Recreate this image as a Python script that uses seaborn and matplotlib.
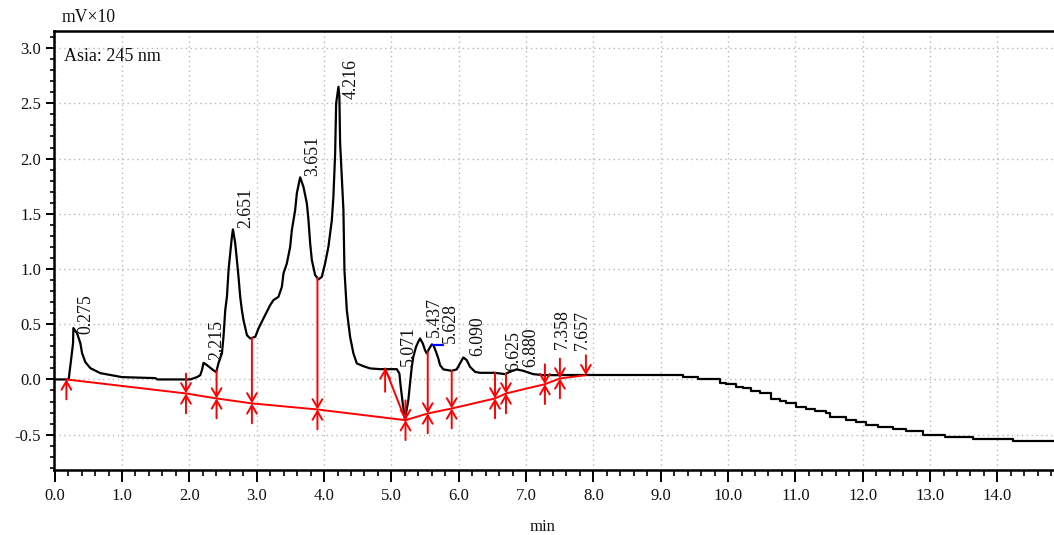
import numpy as np
import pandas as pd
import matplotlib
matplotlib.use("Agg")
import matplotlib.pyplot as plt
import seaborn as sns
from matplotlib.ticker import MultipleLocator, FormatStrFormatter

# ---------------- data ----------------
trace_t = [0.000, 0.208, 0.243, 0.273, 0.278, 0.332, 0.381, 0.407, 0.455, 0.530,
           0.678, 1.000, 1.494, 1.524, 2.013, 2.113, 2.162, 2.187, 2.211, 2.261,
           2.355, 2.399, 2.433, 2.484, 2.507, 2.533, 2.558, 2.582, 2.607, 2.632,
           2.647, 2.681, 2.706, 2.730, 2.755, 2.780, 2.804, 2.855, 2.904, 2.979,
           3.027, 3.101, 3.200, 3.249, 3.323, 3.374, 3.398, 3.448, 3.497, 3.522,
           3.571, 3.596, 3.645, 3.694, 3.745, 3.769, 3.794, 3.819, 3.868, 3.917,
           3.967, 4.016, 4.065, 4.116, 4.139, 4.165, 4.180, 4.214, 4.228, 4.239,
           4.288, 4.303, 4.338, 4.387, 4.436, 4.487, 4.585, 4.684, 4.832, 5.080,
           5.119, 5.139, 5.169, 5.203, 5.226, 5.252, 5.277, 5.303, 5.326, 5.366,
           5.400, 5.426, 5.466, 5.500, 5.525, 5.564, 5.600, 5.623, 5.663, 5.697,
           5.723, 5.772, 5.896, 5.970, 6.019, 6.068, 6.119, 6.168, 6.242, 6.316,
           6.539, 6.687, 6.761, 6.861, 6.959, 7.107, 7.255, 7.503]
trace_v = [0.000, 0.000, 0.175, 0.329, 0.465, 0.419, 0.329, 0.238, 0.157, 0.102,
           0.057, 0.021, 0.012, 0.000, 0.000, 0.021, 0.039, 0.084, 0.150, 0.130,
           0.084, 0.066, 0.148, 0.238, 0.386, 0.628, 0.748, 0.990, 1.144, 1.292,
           1.359, 1.235, 1.081, 0.929, 0.748, 0.628, 0.537, 0.401, 0.371, 0.386,
           0.462, 0.553, 0.673, 0.718, 0.748, 0.839, 0.960, 1.051, 1.201, 1.352,
           1.533, 1.685, 1.830, 1.745, 1.594, 1.443, 1.232, 1.081, 0.945, 0.906,
           0.929, 1.051, 1.201, 1.443, 1.654, 2.047, 2.500, 2.650, 2.560, 2.138,
           1.533, 0.990, 0.628, 0.386, 0.236, 0.145, 0.120, 0.100, 0.093, 0.093,
           0.054, -0.067, -0.217, -0.369, -0.278, -0.187, -0.036, 0.114, 0.205, 0.295,
           0.341, 0.371, 0.326, 0.265, 0.236, 0.281, 0.317, 0.311, 0.250, 0.190,
           0.130, 0.091, 0.078, 0.091, 0.145, 0.199, 0.175, 0.114, 0.069, 0.060,
           0.060, 0.048, 0.069, 0.091, 0.078, 0.048, 0.039, 0.039]

# stepped (quantised) tail of the trace
tail_t = [7.503, 9.336, 9.555, 9.877, 9.976, 10.125, 10.223, 10.347, 10.470, 10.644,
          10.767, 10.866, 11.015, 11.163, 11.286, 11.460, 11.509, 11.756, 11.905,
          12.053, 12.226, 12.448, 12.647, 12.893, 13.215, 13.635, 14.228, 14.850]
tail_v = [0.039, 0.024, 0.003, -0.031, -0.045, -0.067, -0.082, -0.103, -0.127, -0.178,
          -0.196, -0.217, -0.248, -0.268, -0.286, -0.307, -0.344, -0.368, -0.389,
          -0.414, -0.432, -0.450, -0.466, -0.505, -0.520, -0.538, -0.556, -0.556]

# integration baseline (red)
base_t = [0.174, 1.950, 2.404, 2.929, 3.902, 5.210, 5.540, 5.896, 6.539, 6.702, 7.280, 7.503, 7.889]
base_v = [0.000, -0.127, -0.172, -0.217, -0.272, -0.369, -0.308, -0.263, -0.172, -0.127, -0.043, 0.009, 0.039]

# tangent-skim marker
skim_t = [4.907, 5.210]
skim_v = [0.100, -0.369]
skim_from_v = -0.112

# blue peak marker
blue_t = [5.600, 5.763]
blue_v = [0.313, 0.313]

# peak retention times
peak_rt = [0.275, 2.215, 2.651, 3.651, 4.216, 5.071, 5.437, 5.628, 6.090, 6.625, 6.880, 7.358, 7.657]
peak_labels = [f"{r:.3f}" for r in peak_rt]
label_dy_pt = {"4.216": -9.5, "7.358": 16.5, "7.657": 16.5}
label_dx_pt = {"5.437": 1.0, "5.628": 3.0}

x_label = "min"
y_unit = "mV×10"
channel = "Asia: 245 nm"

# ---------------- style ----------------
sns.set_theme(style="white")
plt.rcParams["font.family"] = ["Liberation Serif", "DejaVu Serif"]
plt.rcParams["axes.unicode_minus"] = False

fig = plt.figure(figsize=(10.54, 5.35), dpi=100)
ax = fig.add_axes([54 / 1054, 65 / 535, 1000 / 1054, 439 / 535])

RED = "#ff0000"
TXT = "#111111"

trace_df = pd.DataFrame({"t": trace_t, "v": trace_v})
tail_df = pd.DataFrame({"t": tail_t, "v": tail_v})
base_df = pd.DataFrame({"t": base_t, "v": base_v})

sns.lineplot(data=trace_df, x="t", y="v", ax=ax, color="black", lw=1.6,
             estimator=None, sort=False, zorder=3)
sns.lineplot(data=tail_df, x="t", y="v", ax=ax, color="black", lw=1.6,
             estimator=None, sort=False, drawstyle="steps-post", zorder=3)
sns.lineplot(data=base_df, x="t", y="v", ax=ax, color=RED, lw=1.4,
             estimator=None, sort=False, zorder=4)
sns.lineplot(x=skim_t, y=skim_v, ax=ax, color=RED, lw=1.4,
             estimator=None, sort=False, zorder=4)
sns.lineplot(x=blue_t, y=blue_v, ax=ax, color="#0000ff", lw=1.6,
             estimator=None, sort=False, zorder=5)

arrow_kw = dict(arrowstyle="->,head_length=0.6,head_width=0.35", color=RED, lw=1.4,
                shrinkA=0, shrinkB=0, mutation_scale=10)
alen = 0.18
tr_t = np.array(trace_t + tail_t[1:])
tr_v = np.array(trace_v + tail_v[1:])
n = len(base_t)
for i, (bt, bv) in enumerate(zip(base_t, base_v)):
    if i > 0:
        top = float(np.interp(bt, tr_t, tr_v))
        start = top if top - bv > alen else bv + alen
        ax.annotate("", xy=(bt, bv), xytext=(bt, start), arrowprops=arrow_kw, zorder=4)
    if i < n - 1:
        ax.annotate("", xy=(bt, bv), xytext=(bt, bv - alen), arrowprops=arrow_kw, zorder=4)
# skim start arrow
ax.annotate("", xy=(skim_t[0], skim_v[0]), xytext=(skim_t[0], skim_from_v),
            arrowprops=arrow_kw, zorder=4)

# peak labels
for rt, lab in zip(peak_rt, peak_labels):
    yv = float(np.interp(rt, tr_t, tr_v))
    ax.annotate(lab, xy=(rt, yv),
                xytext=(9 + label_dx_pt.get(lab, 0), 2 + label_dy_pt.get(lab, 0)),
                textcoords="offset points", rotation=90, ha="center", va="bottom",
                fontsize=12.8, color=TXT, zorder=6)

# axes
ax.set_xlim(-0.01, 14.84)
ax.set_ylim(-0.82, 3.155)
ax.xaxis.set_major_locator(MultipleLocator(1.0))
ax.xaxis.set_minor_locator(MultipleLocator(0.2))
ax.yaxis.set_major_locator(MultipleLocator(0.5))
ax.yaxis.set_minor_locator(MultipleLocator(0.1))
ax.xaxis.set_major_formatter(FormatStrFormatter("%.1f"))
ax.yaxis.set_major_formatter(FormatStrFormatter("%.1f"))
ax.tick_params(axis="x", which="major", direction="out", length=8.6, width=1.4,
               labelsize=12, pad=4, colors="black", bottom=True)
ax.tick_params(axis="x", which="minor", direction="out", length=4.3, width=1.4, bottom=True)
ax.tick_params(axis="y", which="major", direction="out", length=5.8, width=1.4,
               labelsize=12, pad=3.5, colors="black", left=True)
ax.tick_params(axis="y", which="minor", direction="out", length=2.9, width=1.4, left=True)
for lbl in ax.get_xticklabels() + ax.get_yticklabels():
    lbl.set_color(TXT)

ax.grid(True, which="major", color="#b8b8b8", linestyle=(0, (1, 2.5)), linewidth=1.0)
ax.set_axisbelow(True)
for side in ["left", "bottom", "top"]:
    ax.spines[side].set_visible(True)
    ax.spines[side].set_color("black")
    ax.spines[side].set_linewidth(1.8)
ax.spines["right"].set_visible(False)

ax.set_xlabel(x_label, fontsize=12, color=TXT)
ax.xaxis.set_label_coords(0.489, -0.112)
ax.set_ylabel("")
ax.text(0.008, 1.03, y_unit, transform=ax.transAxes, ha="left", va="center",
        fontsize=12.7, color=TXT)
ax.text(0.010, 0.941, channel, transform=ax.transAxes, ha="left", va="center",
        fontsize=13, color=TXT)

fig.savefig("out.png", dpi=100)
